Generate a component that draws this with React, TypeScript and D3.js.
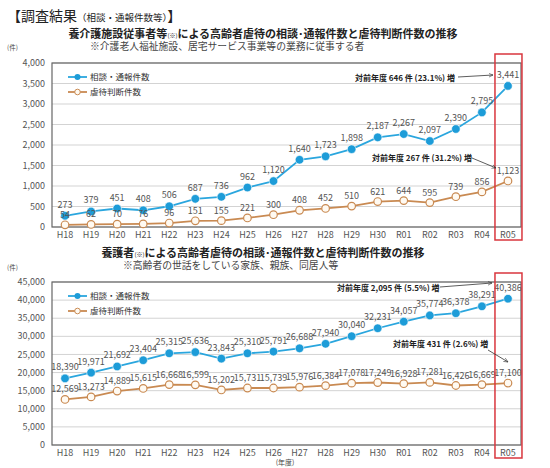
import { useRef, useEffect } from "react";
import * as d3 from "d3";

const years = [
  "H18", "H19", "H20", "H21", "H22", "H23", "H24", "H25", "H26",
  "H27", "H28", "H29", "H30", "R01", "R02", "R03", "R04", "R05",
];

const seriesNames = ["相談・通報件数", "虐待判断件数"];

// 養介護施設従事者等
const staffConsults = [273, 379, 451, 408, 506, 687, 736, 962, 1120, 1640, 1723, 1898, 2187, 2267, 2097, 2390, 2795, 3441];
const staffJudged = [54, 62, 70, 76, 96, 151, 155, 221, 300, 408, 452, 510, 621, 644, 595, 739, 856, 1123];
const staffTicks = [0, 500, 1000, 1500, 2000, 2500, 3000, 3500, 4000];
const staffNotes = ["対前年度 646 件 (23.1%) 増", "対前年度 267 件 (31.2%) 増"];

// 養護者
const familyConsults = [18390, 19971, 21692, 23404, 25315, 25636, 23843, 25310, 25791, 26688, 27940, 30040, 32231, 34057, 35774, 36378, 38291, 40386];
const familyJudged = [12569, 13273, 14889, 15615, 16668, 16599, 15202, 15731, 15739, 15976, 16384, 17078, 17249, 16928, 17281, 16426, 16669, 17100];
const familyTicks = [0, 5000, 10000, 15000, 20000, 25000, 30000, 35000, 40000, 45000];
const familyNotes = ["対前年度 2,095 件 (5.5%) 増", "対前年度 431 件 (2.6%) 増"];

const FONT = "'Noto Sans CJK JP', 'Noto Sans', sans-serif";
const BLUE = "#2aa6de";
const ORANGE = "#c98a52";
const GRAY = "#555";

type Panel = {
  top: number;
  bottom: number;
  consults: number[];
  judged: number[];
  ticks: number[];
  notes: string[];
  // annotation text x,y and arrow start/end for each series
  noteText: [number, number][];
  arrows: [number, number, number, number][];
};

function App() {
  const svgRef = useRef<SVGSVGElement>(null);

  useEffect(() => {
    drawChart();
  }, []);

  function drawPanel(svg: d3.Selection<SVGSVGElement, unknown, null, undefined>, p: Panel) {
    const left = 52;
    const right = 521;
    const x = d3.scalePoint<string>().domain(years).range([left, right]).padding(0.5);
    const y = d3
      .scaleLinear()
      .domain([0, p.ticks[p.ticks.length - 1]])
      .range([p.bottom, p.top]);
    const g = svg.append("g");

    g.selectAll("line.grid")
      .data(p.ticks)
      .join("line")
      .attr("x1", left)
      .attr("x2", right)
      .attr("y1", (d) => y(d))
      .attr("y2", (d) => y(d))
      .attr("stroke", "#d3d3d3")
      .attr("stroke-width", 1);

    g.append("rect")
      .attr("x", left)
      .attr("y", p.top)
      .attr("width", right - left)
      .attr("height", p.bottom - p.top)
      .attr("fill", "none")
      .attr("stroke", "#666")
      .attr("stroke-width", 1.2);

    g.selectAll("text.ytick")
      .data(p.ticks)
      .join("text")
      .attr("x", left - 7)
      .attr("y", (d) => y(d))
      .attr("dy", "0.35em")
      .attr("text-anchor", "end")
      .attr("font-size", 9)
      .attr("fill", GRAY)
      .text((d) => d3.format(",")(d));

    g.selectAll("text.xtick")
      .data(years)
      .join("text")
      .attr("x", (d) => x(d)!)
      .attr("y", p.bottom + 8)
      .attr("dy", "0.35em")
      .attr("text-anchor", "middle")
      .attr("font-size", 9)
      .attr("fill", GRAY)
      .text((d) => d);

    const series = [
      { values: p.consults, color: BLUE, filled: true, lift: 8 },
      { values: p.judged, color: ORANGE, filled: false, lift: 7 },
    ];

    series.forEach((s) => {
      const line = d3
        .line<number>()
        .x((_, i) => x(years[i])!)
        .y((d) => y(d));
      g.append("path")
        .datum(s.values)
        .attr("d", line)
        .attr("fill", "none")
        .attr("stroke", s.color)
        .attr("stroke-width", 1.8);
      g.selectAll(null)
        .data(s.values)
        .join("circle")
        .attr("cx", (_, i) => x(years[i])!)
        .attr("cy", (d) => y(d))
        .attr("r", s.filled ? 4.3 : 3.8)
        .attr("fill", s.filled ? "#1d9cd8" : "#fffaf2")
        .attr("stroke", s.filled ? "#ffffff" : s.color)
        .attr("stroke-width", s.filled ? 0.6 : 1.2);
      g.selectAll(null)
        .data(s.values)
        .join("text")
        .attr("x", (_, i) => x(years[i])!)
        .attr("y", (d) => y(d) - s.lift)
        .attr("text-anchor", "middle")
        .attr("font-size", 9)
        .attr("fill", GRAY)
        .text((d) => d3.format(",")(d));
    });

    // legend
    seriesNames.forEach((name, i) => {
      const ly = p.top + 14 + i * 15;
      const s = series[i];
      g.append("line")
        .attr("x1", 68)
        .attr("x2", 87)
        .attr("y1", ly)
        .attr("y2", ly)
        .attr("stroke", s.color)
        .attr("stroke-width", 1.8);
      g.append("circle")
        .attr("cx", 77.5)
        .attr("cy", ly)
        .attr("r", s.filled ? 3 : 2.8)
        .attr("fill", s.filled ? "#1d9cd8" : "#fffaf2")
        .attr("stroke", s.filled ? "none" : s.color);
      g.append("text")
        .attr("x", 90)
        .attr("y", ly)
        .attr("dy", "0.35em")
        .attr("font-size", 8.5)
        .attr("fill", "#333")
        .text(name);
    });

    // highlight box for the latest year
    const last = x(years[years.length - 1])!;
    g.append("rect")
      .attr("x", last - 13)
      .attr("y", p.top - 9)
      .attr("width", 27)
      .attr("height", p.bottom - p.top + 22)
      .attr("fill", "none")
      .attr("stroke", "#d9363e")
      .attr("stroke-width", 1.5);

    // annotations
    p.notes.forEach((note, i) => {
      const [tx, ty] = p.noteText[i];
      const [ax1, ay1, ax2, ay2] = p.arrows[i];
      g.append("text")
        .attr("x", tx)
        .attr("y", ty)
        .attr("dy", "0.35em")
        .attr("font-size", 8)
        .attr("font-weight", "bold")
        .attr("fill", "#222")
        .text(note);
      g.append("line")
        .attr("x1", ax1)
        .attr("y1", ay1)
        .attr("x2", ax2)
        .attr("y2", ay2)
        .attr("stroke", "#333")
        .attr("stroke-width", 0.8)
        .attr("marker-end", "url(#arrow)");
    });
  }

  function drawChart() {
    if (!svgRef.current) return;
    const svg = d3.select(svgRef.current);
    svg.selectAll("*").remove();
    svg.attr("font-family", FONT);

    svg
      .append("defs")
      .append("marker")
      .attr("id", "arrow")
      .attr("viewBox", "0 0 10 10")
      .attr("refX", 9)
      .attr("refY", 5)
      .attr("markerWidth", 6)
      .attr("markerHeight", 6)
      .attr("orient", "auto")
      .append("path")
      .attr("d", "M0,1 L9,5 L0,9")
      .attr("fill", "none")
      .attr("stroke", "#333")
      .attr("stroke-width", 1.2);

    // page heading
    const head = svg.append("text").attr("x", 7).attr("y", 15).attr("dy", "0.35em").attr("fill", "#222");
    head.append("tspan").attr("font-size", 14).text("【調査結果");
    head.append("tspan").attr("font-size", 9.5).text("（相談・通報件数等）");
    head.append("tspan").attr("font-size", 14).text("】");

    const t1 = svg.append("text").attr("x", 263).attr("y", 32).attr("dy", "0.35em")
      .attr("text-anchor", "middle").attr("font-weight", "bold").attr("fill", "#222");
    t1.append("tspan").attr("font-size", 11).text("養介護施設従事者等");
    t1.append("tspan").attr("font-size", 6).attr("font-weight", "normal").text("(※)");
    t1.append("tspan").attr("font-size", 11).text("による高齢者虐待の相談･通報件数と虐待判断件数の推移");

    svg.append("text").attr("x", 90).attr("y", 47).attr("dy", "0.35em").attr("font-size", 9.8)
      .attr("fill", "#444").text("※介護老人福祉施設、居宅サービス事業等の業務に従事する者");
    svg.append("text").attr("x", 7).attr("y", 48).attr("dy", "0.35em").attr("font-size", 6.5)
      .attr("fill", "#444").text("(件)");

    const t2 = svg.append("text").attr("x", 263).attr("y", 251).attr("dy", "0.35em")
      .attr("text-anchor", "middle").attr("font-weight", "bold").attr("fill", "#222");
    t2.append("tspan").attr("font-size", 11).text("養護者");
    t2.append("tspan").attr("font-size", 6).attr("font-weight", "normal").text("(※)");
    t2.append("tspan").attr("font-size", 11).text("による高齢者虐待の相談･通報件数と虐待判断件数の推移");

    svg.append("text").attr("x", 123).attr("y", 266).attr("dy", "0.35em").attr("font-size", 9.8)
      .attr("fill", "#444").text("※高齢者の世話をしている家族、親族、同居人等");
    svg.append("text").attr("x", 7).attr("y", 268).attr("dy", "0.35em").attr("font-size", 6.5)
      .attr("fill", "#444").text("(件)");

    drawPanel(svg, {
      top: 63,
      bottom: 227,
      consults: staffConsults,
      judged: staffJudged,
      ticks: staffTicks,
      notes: staffNotes,
      noteText: [[355, 78], [372, 158]],
      arrows: [[458, 77, 493, 75], [472, 158, 496, 168]],
    });

    drawPanel(svg, {
      top: 282,
      bottom: 445,
      consults: familyConsults,
      judged: familyJudged,
      ticks: familyTicks,
      notes: familyNotes,
      noteText: [[337, 288], [393, 344]],
      arrows: [[440, 287, 492, 283], [488, 350, 508, 362]],
    });

    svg.append("text").attr("x", 285).attr("y", 463).attr("dy", "0.35em").attr("font-size", 7)
      .attr("text-anchor", "middle").attr("fill", "#444").text("(年度)");
  }

  return (
    <svg
      ref={svgRef}
      width={550}
      height={468}
      style={{ position: "absolute", top: 0, left: 0, background: "#fff" }}
    />
  );
}

export default App;
